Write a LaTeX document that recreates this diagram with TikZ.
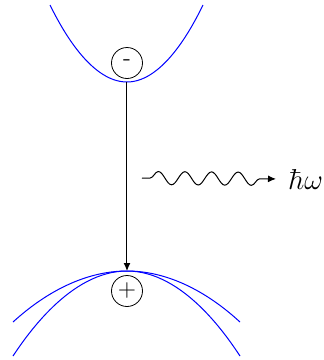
\documentclass[tikz,border=0pt]{standalone}
\usetikzlibrary{arrows.meta, decorations.pathmorphing}

\begin{document}
\begin{tikzpicture}[
  x=0.5pt, y=-0.5pt,
  band/.style={blue, line width=0.5pt},
  carrier/.style={circle, draw, minimum size=15.5pt, inner sep=0pt, font=\large},
  trans/.style={-{Latex[length=4pt, width=3.5pt]}, line width=0.5pt},
  photon/.style={-{Latex[length=4pt, width=3.5pt]}, line width=0.5pt, shorten >=6pt,
    decorate, decoration={snake, segment length=13.3pt, amplitude=3.3pt,
    pre length=4pt, post length=8pt}},
]
\useasboundingbox (0,0) rectangle (324,360);

% ---- bands ----
\draw[band] (50,5) parabola bend (127,82) (203,5);
\draw[band] (13,322) parabola bend (127,271) (240,322);
\draw[band] (13,356) parabola bend (127,271) (240,356);

% ---- carriers ----
\node[carrier] (e) at (127,63)  {-};
\node[carrier] (h) at (127,291) {+};
\coordinate (cb) at (127,82);
\coordinate (vb) at (127,271);

% ---- recombination and emitted photon ----
\draw[trans] (cb) -- (vb);
\coordinate (w) at (142,178);
\node[anchor=west, inner sep=0pt, font=\Large] (hw) at (288,179) {$\hbar\omega$};
\draw[photon] (w) -- (hw.west);

\end{tikzpicture}
\end{document}
